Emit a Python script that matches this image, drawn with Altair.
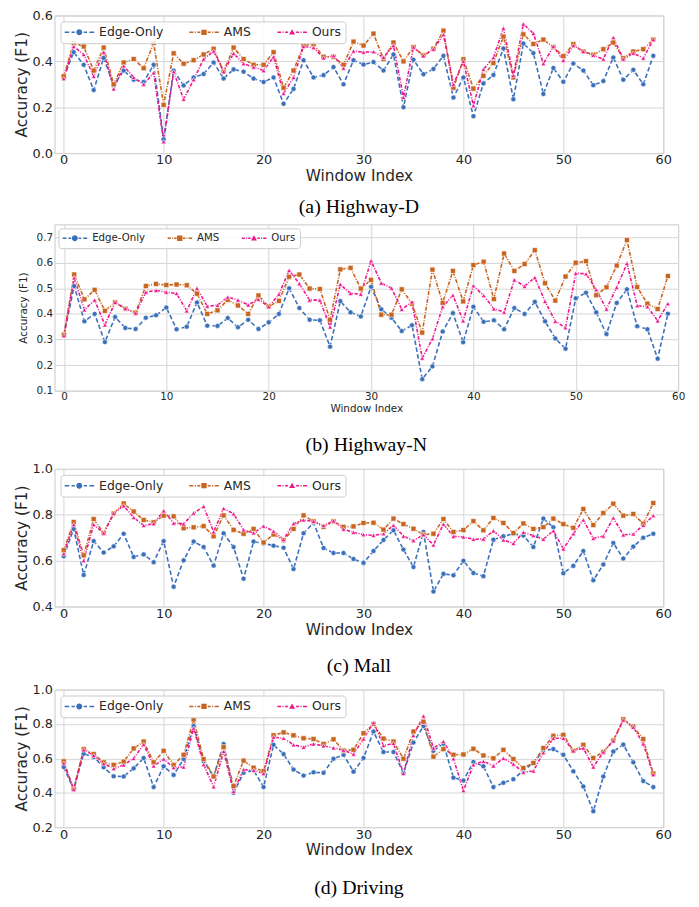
import altair as alt
import pandas as pd

idx = list(range(60))
names = ["Edge-Only", "AMS", "Ours"]
colors = ["#3a6fba", "#c8641e", "#f0148c"]
dashes = [[4.5, 2.5], [4, 1.5, 1, 1.5], [3.5, 1.5, 1, 1.5]]
marker_shapes = ["circle", "square", "triangle-up"]
marker_sizes = [26, 26, 24]

# (a) Highway-D
hd_edge = [0.33, 0.44, 0.385, 0.275, 0.415, 0.295, 0.36, 0.32, 0.31, 0.385,
           0.06, 0.36, 0.295, 0.33, 0.345, 0.395, 0.325, 0.365, 0.355, 0.325,
           0.31, 0.33, 0.215, 0.28, 0.405, 0.33, 0.34, 0.375, 0.30, 0.405,
           0.386, 0.397, 0.36, 0.43, 0.20, 0.407, 0.344, 0.367, 0.424, 0.242,
           0.33, 0.161, 0.304, 0.341, 0.456, 0.235, 0.478, 0.436, 0.258, 0.371,
           0.311, 0.391, 0.36, 0.296, 0.314, 0.417, 0.32, 0.363, 0.30, 0.424]
hd_ams = [0.335, 0.48, 0.465, 0.36, 0.46, 0.30, 0.395, 0.41, 0.37, 0.48,
          0.21, 0.435, 0.39, 0.405, 0.43, 0.455, 0.355, 0.46, 0.41, 0.385,
          0.385, 0.44, 0.285, 0.36, 0.47, 0.475, 0.42, 0.42, 0.385, 0.486,
          0.469, 0.521, 0.41, 0.482, 0.40, 0.462, 0.426, 0.455, 0.534, 0.285,
          0.409, 0.281, 0.337, 0.393, 0.508, 0.33, 0.518, 0.476, 0.495, 0.462,
          0.423, 0.475, 0.443, 0.429, 0.453, 0.482, 0.414, 0.443, 0.453, 0.495]
hd_ours = [0.325, 0.465, 0.43, 0.335, 0.44, 0.28, 0.38, 0.33, 0.30, 0.35,
           0.05, 0.355, 0.235, 0.32, 0.41, 0.445, 0.355, 0.435, 0.39, 0.375,
           0.36, 0.42, 0.26, 0.33, 0.465, 0.46, 0.415, 0.425, 0.37, 0.445,
           0.44, 0.442, 0.417, 0.469, 0.243, 0.462, 0.424, 0.453, 0.517, 0.30,
           0.40, 0.207, 0.365, 0.416, 0.544, 0.338, 0.563, 0.522, 0.39, 0.465,
           0.404, 0.469, 0.443, 0.427, 0.41, 0.504, 0.41, 0.436, 0.414, 0.495]

# (b) Highway-N
hn_edge = [0.318, 0.509, 0.371, 0.40, 0.29, 0.388, 0.345, 0.341, 0.385, 0.395,
           0.425, 0.34, 0.35, 0.445, 0.354, 0.353, 0.384, 0.348, 0.377, 0.341,
           0.367, 0.40, 0.50, 0.423, 0.377, 0.375, 0.272, 0.45, 0.406, 0.39,
           0.506, 0.418, 0.385, 0.333, 0.356, 0.145, 0.195, 0.331, 0.403, 0.289,
           0.428, 0.369, 0.375, 0.34, 0.423, 0.40, 0.447, 0.371, 0.304, 0.264,
           0.461, 0.483, 0.406, 0.321, 0.443, 0.496, 0.352, 0.34, 0.225, 0.401]
hn_ams = [0.318, 0.554, 0.457, 0.494, 0.412, 0.445, 0.42, 0.405, 0.509, 0.517,
          0.513, 0.515, 0.512, 0.479, 0.40, 0.414, 0.455, 0.433, 0.40, 0.472,
          0.429, 0.451, 0.545, 0.554, 0.499, 0.497, 0.377, 0.574, 0.58, 0.499,
          0.533, 0.397, 0.397, 0.496, 0.44, 0.327, 0.573, 0.443, 0.568, 0.449,
          0.591, 0.604, 0.458, 0.636, 0.568, 0.595, 0.649, 0.52, 0.452, 0.546,
          0.60, 0.606, 0.473, 0.504, 0.589, 0.689, 0.505, 0.44, 0.419, 0.548]
hn_ours = [0.315, 0.541, 0.416, 0.454, 0.357, 0.445, 0.421, 0.403, 0.485, 0.492,
           0.485, 0.48, 0.412, 0.50, 0.43, 0.434, 0.466, 0.454, 0.435, 0.457,
           0.428, 0.477, 0.57, 0.518, 0.454, 0.454, 0.349, 0.515, 0.48, 0.477,
           0.608, 0.52, 0.501, 0.418, 0.447, 0.227, 0.303, 0.428, 0.473, 0.373,
           0.51, 0.472, 0.42, 0.407, 0.533, 0.508, 0.542, 0.449, 0.371, 0.346,
           0.559, 0.557, 0.495, 0.419, 0.504, 0.597, 0.432, 0.428, 0.373, 0.44]

# (c) Mall
ml_edge = [0.619, 0.738, 0.537, 0.685, 0.635, 0.662, 0.717, 0.616, 0.627, 0.593,
           0.685, 0.486, 0.601, 0.683, 0.659, 0.578, 0.719, 0.659, 0.521, 0.683,
           0.675, 0.665, 0.656, 0.563, 0.719, 0.765, 0.655, 0.633, 0.633, 0.607,
           0.59, 0.642, 0.69, 0.732, 0.648, 0.572, 0.725, 0.465, 0.542, 0.536,
           0.599, 0.546, 0.532, 0.691, 0.706, 0.717, 0.709, 0.659, 0.783, 0.745,
           0.545, 0.577, 0.642, 0.514, 0.583, 0.677, 0.609, 0.661, 0.70, 0.717]
ml_ams = [0.645, 0.768, 0.623, 0.781, 0.72, 0.805, 0.849, 0.814, 0.777, 0.767,
          0.796, 0.793, 0.741, 0.745, 0.75, 0.706, 0.797, 0.734, 0.717, 0.738,
          0.679, 0.714, 0.689, 0.738, 0.797, 0.771, 0.747, 0.771, 0.747, 0.749,
          0.764, 0.765, 0.735, 0.783, 0.759, 0.739, 0.713, 0.717, 0.781, 0.725,
          0.733, 0.772, 0.732, 0.786, 0.764, 0.72, 0.762, 0.738, 0.746, 0.783,
          0.759, 0.743, 0.825, 0.755, 0.807, 0.848, 0.796, 0.803, 0.761, 0.851]
ml_ours = [0.63, 0.757, 0.60, 0.757, 0.72, 0.806, 0.839, 0.788, 0.753, 0.761,
           0.817, 0.763, 0.76, 0.807, 0.836, 0.725, 0.827, 0.804, 0.734, 0.721,
           0.75, 0.728, 0.692, 0.761, 0.777, 0.771, 0.753, 0.773, 0.737, 0.723,
           0.713, 0.71, 0.717, 0.754, 0.707, 0.687, 0.713, 0.668, 0.759, 0.706,
           0.703, 0.693, 0.694, 0.73, 0.69, 0.675, 0.723, 0.709, 0.693, 0.73,
           0.651, 0.717, 0.777, 0.697, 0.707, 0.786, 0.712, 0.716, 0.754, 0.796]

# (d) Driving
dr_edge = [0.55, 0.42, 0.627, 0.608, 0.548, 0.496, 0.495, 0.542, 0.602, 0.433,
           0.554, 0.504, 0.596, 0.788, 0.583, 0.496, 0.684, 0.40, 0.516, 0.531,
           0.433, 0.679, 0.625, 0.535, 0.50, 0.519, 0.516, 0.598, 0.621, 0.523,
           0.602, 0.756, 0.637, 0.637, 0.515, 0.692, 0.788, 0.644, 0.685, 0.488,
           0.471, 0.579, 0.554, 0.433, 0.458, 0.479, 0.53, 0.573, 0.646, 0.654,
           0.621, 0.525, 0.437, 0.293, 0.495, 0.64, 0.68, 0.577, 0.468, 0.433]
dr_ams = [0.583, 0.42, 0.654, 0.625, 0.577, 0.562, 0.581, 0.658, 0.698, 0.577,
          0.644, 0.562, 0.621, 0.826, 0.596, 0.495, 0.665, 0.439, 0.587, 0.546,
          0.525, 0.734, 0.751, 0.734, 0.717, 0.713, 0.684, 0.711, 0.646, 0.65,
          0.746, 0.80, 0.715, 0.698, 0.598, 0.756, 0.813, 0.61, 0.654, 0.621,
          0.623, 0.656, 0.617, 0.60, 0.65, 0.596, 0.544, 0.573, 0.66, 0.731,
          0.737, 0.644, 0.679, 0.602, 0.638, 0.704, 0.827, 0.785, 0.712, 0.512]
dr_ours = [0.573, 0.42, 0.65, 0.617, 0.569, 0.541, 0.562, 0.60, 0.682, 0.556,
           0.596, 0.546, 0.55, 0.776, 0.564, 0.435, 0.64, 0.408, 0.535, 0.531,
           0.512, 0.723, 0.717, 0.679, 0.665, 0.684, 0.673, 0.661, 0.648, 0.625,
           0.713, 0.808, 0.675, 0.687, 0.513, 0.733, 0.846, 0.66, 0.698, 0.598,
           0.413, 0.563, 0.583, 0.556, 0.60, 0.567, 0.519, 0.527, 0.633, 0.717,
           0.717, 0.644, 0.66, 0.55, 0.637, 0.702, 0.823, 0.781, 0.685, 0.506]

x_ticks = [0, 10, 20, 30, 40, 50, 60]
TEXT = "#262626"


def rect(x0, x1, h):
    return f"M{x0:.3f},{-h:.3f}L{x1:.3f},{-h:.3f}L{x1:.3f},{h:.3f}L{x0:.3f},{h:.3f}Z"


def legend_paths(W):
    h = 1.5 / W
    r = 6.0 / W
    circ = f"M{r:.3f},0A{r:.3f},{r:.3f},0,1,1,{-r:.3f},0A{r:.3f},{r:.3f},0,1,1,{r:.3f},0Z"
    s = r * 0.9
    sq = f"M{-s:.3f},{-s:.3f}L{s:.3f},{-s:.3f}L{s:.3f},{s:.3f}L{-s:.3f},{s:.3f}Z"
    tri = f"M0,{-r:.3f}L{r:.3f},{0.75 * r:.3f}L{-r:.3f},{0.75 * r:.3f}Z"
    edge = "".join([rect(-1, -0.68, h), rect(-0.52, -0.3, h), rect(0.3, 0.52, h), rect(0.68, 1, h)]) + circ
    ams = "".join([rect(-1, -0.72, h), rect(-0.62, -0.55, h), rect(-0.45, -0.25, h),
                   rect(0.25, 0.45, h), rect(0.55, 0.62, h), rect(0.72, 1, h)]) + sq
    ours = "".join([rect(-1, -0.74, h), rect(-0.64, -0.57, h), rect(-0.47, -0.27, h),
                    rect(0.27, 0.47, h), rect(0.57, 0.64, h), rect(0.74, 1, h)]) + tri
    return [edge, ams, ours]


def panel(tag, edge, ams, ours, ydom, yvals, w, h, fs_tick, fs_title, fs_leg, W,
          colpad, leg_off, caption, cap_off, ytitle_pad):
    df = pd.DataFrame({
        "idx": idx * 3,
        "val": edge + ams + ours,
        "series": [n for n in names for _ in idx],
    })
    xenc = alt.X("idx:Q", scale=alt.Scale(domain=[-0.92, 60], nice=False, zero=False),
                 axis=alt.Axis(values=x_ticks, title="Window Index", labelFontSize=fs_tick,
                               titleFontSize=fs_title, labelPadding=1, titlePadding=2,
                               labelFlush=False))
    yenc = alt.Y("val:Q", scale=alt.Scale(domain=ydom, nice=False, zero=False),
                 axis=alt.Axis(values=yvals, format=".1f", title="Accuracy (F1)",
                               labelFontSize=fs_tick, titleFontSize=fs_title,
                               labelPadding=2, titlePadding=ytitle_pad))
    base = alt.Chart(df)
    layers = []
    for n, c, d in zip(names, colors, dashes):
        layers.append(
            base.transform_filter(alt.datum.series == n)
            .mark_line(strokeWidth=1.6, color=c, strokeDash=d)
            .encode(x=xenc, y=yenc)
        )
    for n, c, shp, sz in zip(names, colors, marker_shapes, marker_sizes):
        layers.append(
            base.transform_filter(alt.datum.series == n)
            .mark_point(shape=shp, filled=True, opacity=1, size=sz, fill=c,
                        stroke="white", strokeWidth=0.6)
            .encode(x=xenc, y=yenc)
        )
    keys = [f"{n}#{tag}" for n in names]
    fld = f"lg_{tag}"
    leg = alt.Legend(title=None, orient="top-left", direction="horizontal", offset=leg_off,
                     labelExpr="split(datum.label, '#')[0]",
                     labelFont="DejaVu Sans", labelFontSize=fs_leg, labelColor=TEXT, labelOffset=5,
                     symbolSize=W * W, symbolStrokeWidth=0, symbolOpacity=1,
                     clipHeight=fs_leg + 1.5, columnPadding=colpad, padding=4,
                     fillColor="rgba(255,255,255,0.85)", strokeColor="#cccccc", cornerRadius=3)
    leg_layer = (
        alt.Chart(pd.DataFrame({fld: keys}))
        .transform_filter("false")
        .mark_point(filled=True, opacity=1)
        .encode(
            fill=alt.Fill(f"{fld}:N", scale=alt.Scale(domain=keys, range=colors), legend=leg),
            shape=alt.Shape(f"{fld}:N", scale=alt.Scale(domain=keys, range=legend_paths(W)), legend=leg),
        )
    )
    layers.append(leg_layer)
    return alt.layer(*layers).properties(
        width=w, height=h,
        title=alt.TitleParams(caption, orient="bottom", anchor="middle", font="Liberation Serif",
                              fontSize=20, fontWeight="normal", color="black", offset=cap_off),
    )


pa = panel("a", hd_edge, hd_ams, hd_ours, [0, 0.6], [0.0, 0.2, 0.4, 0.6], 615, 139,
           13, 15.5, 12.5, 30, 26, 6, "(a) Highway-D", 13, 3)
pb = panel("b", hn_edge, hn_ams, hn_ours, [0.1, 0.75], [0.1, 0.2, 0.3, 0.4, 0.5, 0.6, 0.7], 630, 168,
           10.5, 10.5, 10.3, 25, 22, 4, "(b) Highway-N", 21, 8)
pc = panel("c", ml_edge, ml_ams, ml_ours, [0.4, 1.0], [0.4, 0.6, 0.8, 1.0], 615, 139,
           13, 15.5, 12.5, 30, 26, 6, "(c) Mall", 19, 3)
pd_ = panel("d", dr_edge, dr_ams, dr_ours, [0.2, 1.0], [0.2, 0.4, 0.6, 0.8, 1.0], 615, 139,
            13, 15.5, 12.5, 30, 26, 6, "(d) Driving", 20, 3)

chart = (
    alt.concat(pa, pb, pc, pd_, columns=1, spacing=6, align="none")
    .resolve_scale(fill="independent", shape="independent")
    .resolve_legend(fill="independent", shape="independent")
    .properties(padding={"left": 5, "right": 5, "top": -4, "bottom": 0}, background="white")
    .configure_view(stroke="#c8c8c8", strokeWidth=1)
    .configure_axis(grid=True, gridColor="#d6d6d6", gridWidth=1, domain=False, ticks=False,
                    labelColor=TEXT, titleColor=TEXT, labelFont="DejaVu Sans",
                    titleFont="DejaVu Sans", titleFontWeight="normal")
)

chart.save("out.html", embed_options={"renderer": "svg", "actions": False})
